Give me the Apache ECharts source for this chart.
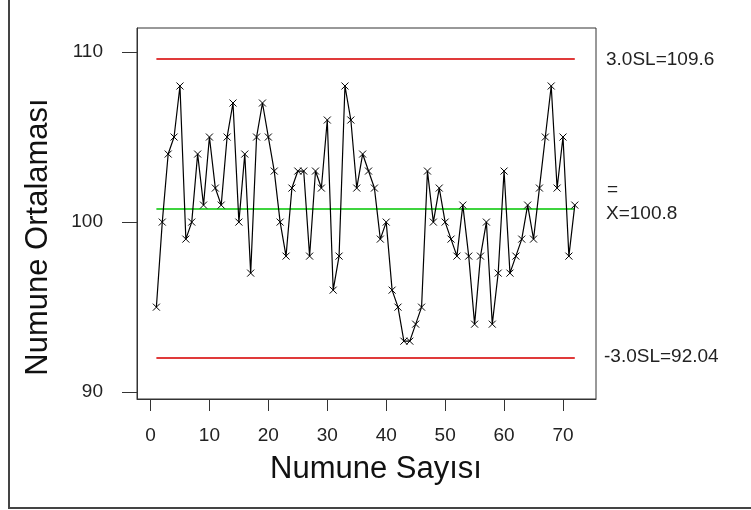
<!DOCTYPE html>
<html>
<head>
<meta charset="utf-8">
<script src="https://cdn.jsdelivr.net/npm/echarts@6/dist/echarts.min.js"></script>
<style>
html,body{margin:0;padding:0;background:#fff;}
#chart{width:751px;height:510px;}
</style>
</head>
<body>
<div id="chart"></div>
<script>
// Data
var sampleNumbers = [];
for (var i = 1; i <= 72; i++) sampleNumbers.push(i);
var sampleMeans = [95,100,104,105,108,99,100,104,101,105,
                   102,101,105,107,100,104,97,105,107,105,
                   103,100,98,102,103,103,98,103,102,106,
                   96,98,108,106,102,104,103,102,99,100,
                   96,95,93,93,94,95,103,100,102,100,
                   99,98,101,98,94,98,100,94,97,103,
                   97,98,99,101,99,102,105,108,102,105,
                   98,101];
var UCL = 109.6, CL = 100.8, LCL = 92.04;
var limitLabels = ['3.0SL=109.6', 'X=100.8', '-3.0SL=92.04'];
var xTicks = [0,10,20,30,40,50,60,70];
var yTicks = [90,100,110];
var xTitle = 'Numune Sayısı';
var yTitle = 'Numune Ortalaması';

var chart = echarts.init(document.getElementById('chart'), null, {renderer:'canvas'});
var FONT = 'Liberation Sans, Arial, sans-serif';
var seriesData = sampleNumbers.map(function(x, k){ return [x, sampleMeans[k]]; });
var first = sampleNumbers[0], last = sampleNumbers[sampleNumbers.length-1];

function limitLine(v, color){
  return [{coord:[first, v], lineStyle:{color:color, width:2, type:'solid'}},
          {coord:[last, v]}];
}
var RED = '#e03a3a', GREEN = '#3fd43f';

var option = {
  backgroundColor:'#fff',
  animation:false,
  grid:{left:137, right:155, top:28, bottom:111, show:true, borderColor:'#333', borderWidth:1, backgroundColor:'transparent'},
  xAxis:{type:'value', min:-2.29, max:75.6,
    axisLine:{show:true, onZero:false, lineStyle:{color:'#333', width:1}},
    axisTick:{show:true, length:12, customValues:xTicks, lineStyle:{color:'#333', width:1}},
    axisLabel:{customValues:xTicks, margin:27, fontSize:19, color:'#222', fontFamily:FONT},
    splitLine:{show:false}},
  yAxis:{type:'value', min:89.6, max:111.41,
    axisLine:{show:true, onZero:false, lineStyle:{color:'#333', width:1}},
    axisTick:{show:true, length:15, customValues:yTicks, lineStyle:{color:'#333', width:1}},
    axisLabel:{customValues:yTicks, margin:34, fontSize:19, color:'#222', fontFamily:FONT},
    splitLine:{show:false}},
  series:[
    {type:'line', name:'means', id:'means', data:seriesData, z:3,
      symbol:'path://M0,0L10,10M10,0L0,10', symbolSize:7,
      itemStyle:{color:'#000', borderColor:'#000', borderWidth:1},
      lineStyle:{color:'#000', width:1.2},
      markLine:{silent:true, symbol:['none','none'], label:{show:false}, z:1,
        data:[limitLine(UCL, RED), limitLine(LCL, RED), limitLine(CL, GREEN)]}}
  ],
  graphic:[
    {type:'polyline', shape:{points:[[9,0],[9,508],[751,508]]}, style:{stroke:'#444', lineWidth:2, fill:null}},
    {type:'text', left:606, top:50, style:{text:limitLabels[0], font:'19px '+FONT, fill:'#222'}},
    {type:'text', left:607, top:180, style:{text:'=', font:'19px '+FONT, fill:'#222'}},
    {type:'text', left:606, top:204, style:{text:limitLabels[1], font:'19px '+FONT, fill:'#222'}},
    {type:'text', left:604, top:347, style:{text:limitLabels[2], font:'19px '+FONT, fill:'#222'}},
    {type:'text', x:376, y:469, style:{text:xTitle, font:'31px '+FONT, fill:'#111', align:'center', verticalAlign:'middle'}},
    {type:'text', x:38, y:237, rotation:Math.PI/2, style:{text:yTitle, font:'31px '+FONT, fill:'#111', align:'center', verticalAlign:'middle'}}
  ]
};
chart.setOption(option);
</script>
</body>
</html>
